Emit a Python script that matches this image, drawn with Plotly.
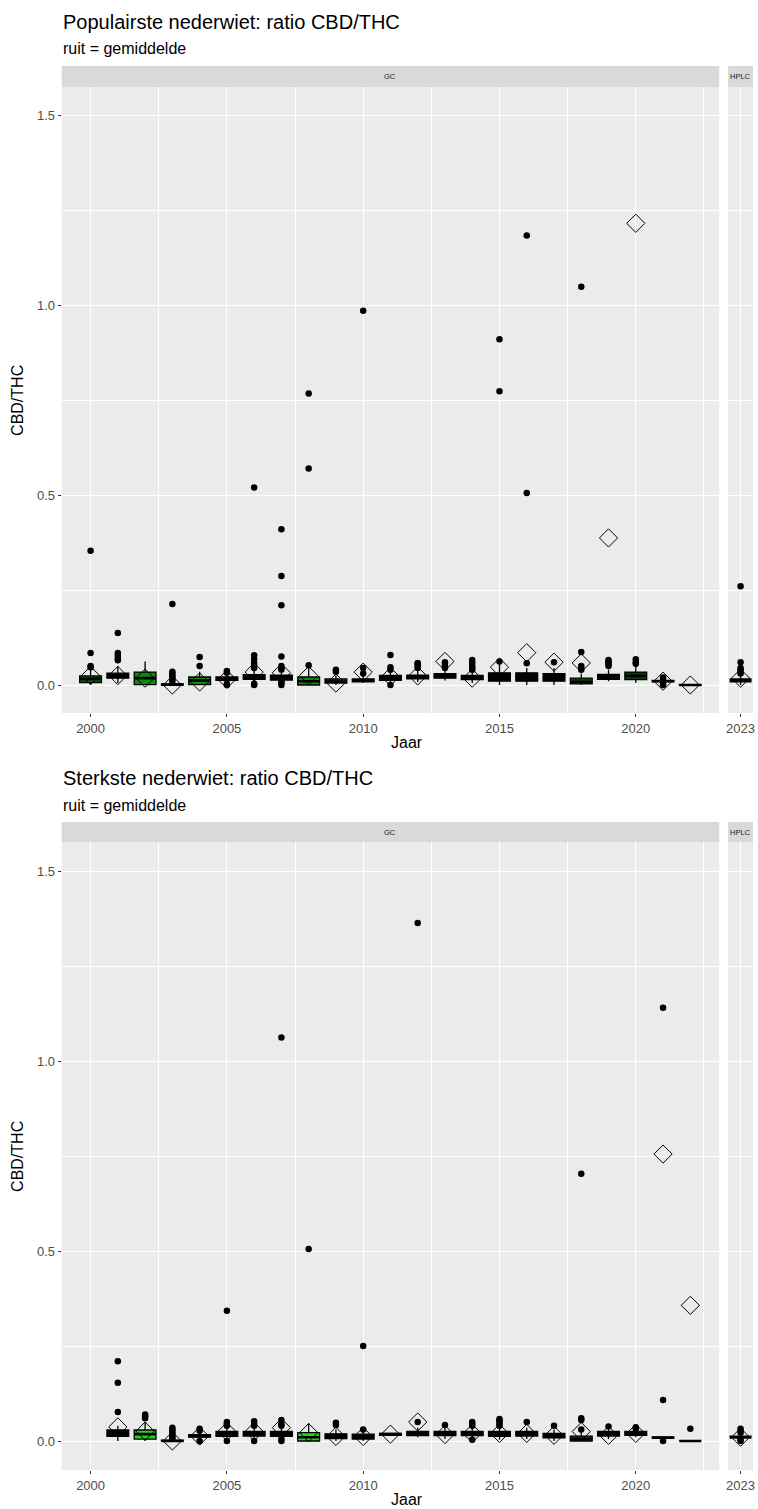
import plotly.graph_objects as go

# ---------------- DATA ----------------
# Chart 1: Populairste nederwiet
TOP_YEARS = [2000, 2001, 2002, 2003, 2004, 2005, 2006, 2007, 2008, 2009, 2010, 2011,
             2012, 2013, 2014, 2015, 2016, 2017, 2018, 2019, 2020, 2021, 2022, 2023]
TOP_METHOD = ["GC"] * 23 + ["HPLC"]
TOP_Q1 = [0.006, 0.018, 0.001, 0.000, 0.001, 0.012, 0.015, 0.013, 0.000, 0.005, 0.008, 0.012,
          0.016, 0.018, 0.014, 0.010, 0.010, 0.010, 0.003, 0.015, 0.014, 0.009, 0.000, 0.008]
TOP_MED = [0.016, 0.024, 0.018, 0.001, 0.012, 0.016, 0.020, 0.019, 0.010, 0.009, 0.012, 0.018,
           0.020, 0.022, 0.020, 0.020, 0.020, 0.018, 0.008, 0.020, 0.024, 0.010, 0.000, 0.012]
TOP_Q3 = [0.024, 0.031, 0.034, 0.003, 0.021, 0.021, 0.027, 0.026, 0.021, 0.016, 0.016, 0.025,
          0.026, 0.030, 0.025, 0.032, 0.032, 0.030, 0.018, 0.028, 0.034, 0.012, 0.001, 0.016]
TOP_LO = [0.000, 0.005, 0.000, 0.000, 0.000, 0.003, 0.005, 0.005, 0.000, 0.000, 0.005, 0.003,
          0.008, 0.012, 0.005, 0.000, 0.000, 0.000, 0.000, 0.010, 0.005, 0.005, 0.000, 0.000]
TOP_HI = [0.045, 0.050, 0.062, 0.006, 0.035, 0.030, 0.040, 0.038, 0.045, 0.025, 0.025, 0.035,
          0.040, 0.040, 0.038, 0.055, 0.045, 0.045, 0.030, 0.040, 0.050, 0.015, 0.001, 0.025]
TOP_MEAN = [0.025, 0.025, 0.018, 0.000, 0.008, 0.015, 0.034, 0.032, 0.025, 0.005, 0.034, 0.022,
            0.024, 0.062, 0.018, 0.047, 0.085, 0.060, 0.058, 0.387, 1.215, 0.010, 0.000, 0.018]
TOP_OUT = [
    [0.353, 0.084, 0.050, 0.047],
    [0.137, 0.084, 0.077, 0.070, 0.065],
    [],
    [0.213, 0.035, 0.030, 0.025, 0.020, 0.015, 0.010],
    [0.074, 0.050],
    [0.037, 0.032, 0.000, 0.003],
    [0.520, 0.078, 0.068, 0.058, 0.050, 0.045, 0.000, 0.003],
    [0.410, 0.287, 0.210, 0.075, 0.050, 0.045, 0.040, 0.010, 0.005, 0.000],
    [0.767, 0.570, 0.052],
    [0.040, 0.035],
    [0.985, 0.045, 0.030],
    [0.079, 0.047, 0.040, 0.000],
    [0.058, 0.055, 0.050, 0.045],
    [0.060, 0.055, 0.050, 0.045],
    [0.066, 0.058, 0.050, 0.045, 0.040],
    [0.910, 0.773, 0.062],
    [1.183, 0.505, 0.057],
    [0.060],
    [1.048, 0.087, 0.050, 0.045, 0.040],
    [0.066, 0.062, 0.058, 0.054, 0.050],
    [0.068, 0.060, 0.056],
    [0.020, 0.016, 0.003, 0.000],
    [],
    [0.260, 0.060, 0.045, 0.040, 0.035, 0.030],
]

# Chart 2: Sterkste nederwiet
BOT_YEARS = [2001, 2002, 2003, 2004, 2005, 2006, 2007, 2008, 2009, 2010, 2011, 2012,
             2013, 2014, 2015, 2016, 2017, 2018, 2019, 2020, 2021, 2022, 2023]
BOT_METHOD = ["GC"] * 22 + ["HPLC"]
BOT_Q1 = [0.012, 0.005, 0.000, 0.010, 0.012, 0.013, 0.012, 0.000, 0.006, 0.005, 0.015, 0.014,
          0.014, 0.014, 0.012, 0.013, 0.008, 0.000, 0.013, 0.015, 0.008, 0.000, 0.008]
BOT_MED = [0.022, 0.018, 0.000, 0.013, 0.020, 0.020, 0.020, 0.010, 0.013, 0.010, 0.018, 0.020,
           0.020, 0.020, 0.018, 0.020, 0.015, 0.005, 0.020, 0.020, 0.009, 0.000, 0.010]
BOT_Q3 = [0.029, 0.029, 0.002, 0.017, 0.025, 0.025, 0.025, 0.022, 0.019, 0.018, 0.020, 0.025,
          0.025, 0.025, 0.025, 0.025, 0.020, 0.013, 0.025, 0.025, 0.010, 0.000, 0.013]
BOT_LO = [0.000, 0.000, 0.000, 0.005, 0.005, 0.005, 0.005, 0.000, 0.000, 0.000, 0.015, 0.010,
          0.005, 0.005, 0.003, 0.005, 0.000, 0.000, 0.005, 0.010, 0.008, 0.000, 0.003]
BOT_HI = [0.040, 0.050, 0.004, 0.022, 0.035, 0.035, 0.035, 0.047, 0.030, 0.025, 0.020, 0.035,
          0.035, 0.035, 0.035, 0.035, 0.030, 0.025, 0.030, 0.030, 0.010, 0.000, 0.020]
BOT_MEAN = [0.037, 0.026, 0.000, 0.013, 0.025, 0.025, 0.035, 0.022, 0.012, 0.012, 0.018, 0.050,
            0.017, 0.020, 0.020, 0.020, 0.015, 0.025, 0.015, 0.020, 0.755, 0.357, 0.010]
BOT_OUT = [
    [0.210, 0.153, 0.076],
    [0.070, 0.065, 0.060],
    [0.035, 0.030, 0.025, 0.020, 0.015, 0.010, 0.006],
    [0.032, 0.027, 0.000],
    [0.343, 0.050, 0.045, 0.040, 0.000],
    [0.052, 0.045, 0.040, 0.000],
    [1.062, 0.055, 0.045, 0.040, 0.005, 0.000],
    [0.505],
    [0.048, 0.042],
    [0.250, 0.030],
    [],
    [1.363, 0.050],
    [0.042],
    [0.050, 0.045, 0.040, 0.003],
    [0.058, 0.054, 0.050, 0.045, 0.040],
    [0.050],
    [0.040],
    [0.703, 0.060, 0.055, 0.030],
    [0.038],
    [0.036, 0.032],
    [1.140, 0.108, 0.000],
    [0.032],
    [0.032, 0.027, 0.022, 0.003, 0.000],
]

X_TICKS = [2000, 2005, 2010, 2015, 2020]
X_MINOR = [2002.5, 2007.5, 2012.5, 2017.5, 2022.5]
Y_TICKS = [0.0, 0.5, 1.0, 1.5]
Y_TICKTEXT = ["0.0", "0.5", "1.0", "1.5"]
Y_MINOR = [0.25, 0.75, 1.25]

TITLES = ["Populairste nederwiet: ratio CBD/THC", "Sterkste nederwiet: ratio CBD/THC"]
SUBTITLE = "ruit = gemiddelde"

# ---------------- STYLE ----------------
W, H = 758, 1509
FONT = "Liberation Sans, Arial, sans-serif"
DARK_GREEN = "#005c00"
GREEN = "#0a8c0a"
LIME = "#22d422"
TOP_FILL = {2000: DARK_GREEN, 2002: GREEN, 2004: GREEN, 2008: GREEN, 2009: DARK_GREEN,
            2018: "#0b3d0b", 2020: "#0b3d0b"}
BOT_FILL = {2002: LIME, 2008: LIME, 2018: DARK_GREEN}


def fx(px):
    return px / W


def fy(py):
    return 1 - py / H


# panel geometry in pixels
PANELS = [
    dict(strip_top=66, top=87, bottom=713, zero=685, title_y=21.5, sub_y=48.5, xt_y=743),
    dict(strip_top=822, top=842, bottom=1470, zero=1441, title_y=777.5, sub_y=805.5, xt_y=1499),
]
PX_PER_UNIT = 380.0
GC_X = (60, 721)
HPLC_X = (730, 755)
GC_RANGE = [1998.94, 2023.06]
HPLC_RANGE = [2022.52, 2023.48]

fig = go.Figure()

datasets = [
    (TOP_YEARS, TOP_METHOD, TOP_Q1, TOP_MED, TOP_Q3, TOP_LO, TOP_HI, TOP_MEAN, TOP_OUT, TOP_FILL),
    (BOT_YEARS, BOT_METHOD, BOT_Q1, BOT_MED, BOT_Q3, BOT_LO, BOT_HI, BOT_MEAN, BOT_OUT, BOT_FILL),
]

layout_axes = {}
annotations = []
shapes = []

for k, (years, method, q1, med, q3, lo, hi, mean, outs, fills) in enumerate(datasets):
    P = PANELS[k]
    for j, m in enumerate(["GC", "HPLC"]):
        n = 2 * k + j + 1
        xa = "x" if n == 1 else f"x{n}"
        ya = "y" if n == 1 else f"y{n}"
        idx = [i for i in range(len(years)) if method[i] == m]
        groups = {}
        for i in idx:
            c = fills.get(years[i], "black")
            groups.setdefault(c, []).append(i)
        for c, ii in groups.items():
            fig.add_trace(go.Box(
                x=[years[i] for i in ii],
                q1=[q1[i] for i in ii], median=[med[i] for i in ii], q3=[q3[i] for i in ii],
                lowerfence=[lo[i] for i in ii], upperfence=[hi[i] for i in ii],
                width=0.8, fillcolor=c, line=dict(color="black", width=1.3),
                whiskerwidth=0, boxpoints=False, showlegend=False,
                xaxis=xa, yaxis=ya, hoverinfo="skip"))
        # thick median bars (ggplot fatten)
        fig.add_trace(go.Box(
            x=[years[i] for i in idx],
            q1=[med[i] for i in idx], median=[med[i] for i in idx], q3=[med[i] for i in idx],
            lowerfence=[med[i] for i in idx], upperfence=[med[i] for i in idx],
            width=0.8, fillcolor="rgba(0,0,0,0)", line=dict(color="black", width=2.6),
            whiskerwidth=0, boxpoints=False, showlegend=False,
            xaxis=xa, yaxis=ya, hoverinfo="skip"))
        ox, oy = [], []
        for i in idx:
            for v in outs[i]:
                ox.append(years[i])
                oy.append(v)
        fig.add_trace(go.Scatter(x=ox, y=oy, mode="markers",
                                 marker=dict(color="black", size=6.5),
                                 showlegend=False, xaxis=xa, yaxis=ya, hoverinfo="skip"))
        fig.add_trace(go.Scatter(x=[years[i] for i in idx], y=[mean[i] for i in idx],
                                 mode="markers",
                                 marker=dict(symbol="diamond-open", size=14, color="black",
                                             line=dict(color="black", width=1)),
                                 showlegend=False, xaxis=xa, yaxis=ya, hoverinfo="skip"))

        yr = [(P["zero"] - P["bottom"]) / PX_PER_UNIT, (P["zero"] - P["top"]) / PX_PER_UNIT]
        xdom = GC_X if m == "GC" else HPLC_X
        common_x = dict(
            domain=[fx(xdom[0]), fx(xdom[1])], anchor=ya,
            ticks="outside", ticklen=3, tickwidth=1, tickcolor="#333333",
            tickfont=dict(size=13, color="#4D4D4D", family=FONT),
            showgrid=True, gridcolor="white", gridwidth=1.4, zeroline=False, showline=False,
        )
        if m == "GC":
            common_x.update(range=GC_RANGE, tickvals=X_TICKS,
                            minor=dict(tickvals=X_MINOR, showgrid=True, gridcolor="white",
                                       gridwidth=0.7, ticks=""))
        else:
            common_x.update(range=HPLC_RANGE, tickvals=[2023])
        common_y = dict(
            domain=[fy(P["bottom"]), fy(P["top"])], anchor=xa, range=yr,
            tickvals=Y_TICKS, ticktext=Y_TICKTEXT,
            showgrid=True, gridcolor="white", gridwidth=1.4, zeroline=False, showline=False,
            minor=dict(tickvals=Y_MINOR, showgrid=True, gridcolor="white", gridwidth=0.7, ticks=""),
        )
        if m == "GC":
            common_y.update(ticks="outside", ticklen=3, tickwidth=1, tickcolor="#333333",
                            tickfont=dict(size=13, color="#4D4D4D", family=FONT))
        else:
            common_y.update(showticklabels=False, ticks="")
        xkey = "xaxis" if n == 1 else f"xaxis{n}"
        ykey = "yaxis" if n == 1 else f"yaxis{n}"
        layout_axes[xkey] = common_x
        layout_axes[ykey] = common_y

        shapes.append(dict(type="rect", xref="paper", yref="paper",
                           x0=fx(xdom[0]), x1=fx(xdom[1]), y0=fy(P["top"]), y1=fy(P["strip_top"]),
                           fillcolor="#D9D9D9", line=dict(width=0)))
        annotations.append(dict(text=m, xref="paper", yref="paper", showarrow=False,
                                x=fx((xdom[0] + xdom[1]) / 2), y=fy((P["top"] + P["strip_top"]) / 2),
                                xanchor="center", yanchor="middle",
                                font=dict(size=7.5, color="#1A1A1A", family=FONT)))

    annotations.append(dict(text=TITLES[k], xref="paper", yref="paper", showarrow=False,
                            x=fx(59), y=fy(P["title_y"]), xanchor="left", yanchor="middle",
                            font=dict(size=20, color="black", family=FONT)))
    annotations.append(dict(text=SUBTITLE, xref="paper", yref="paper", showarrow=False,
                            x=fx(59), y=fy(P["sub_y"]), xanchor="left", yanchor="middle",
                            font=dict(size=16, color="black", family=FONT)))
    annotations.append(dict(text="CBD/THC", xref="paper", yref="paper", showarrow=False,
                            x=fx(15), y=fy((P["top"] + P["bottom"]) / 2), textangle=-90,
                            xanchor="center", yanchor="middle",
                            font=dict(size=16, color="black", family=FONT)))
    annotations.append(dict(text="Jaar", xref="paper", yref="paper", showarrow=False,
                            x=fx(407), y=fy(P["xt_y"]), xanchor="center", yanchor="middle",
                            font=dict(size=16, color="black", family=FONT)))

fig.update_layout(
    width=W, height=H, autosize=False,
    margin=dict(l=0, r=0, t=0, b=0),
    paper_bgcolor="white", plot_bgcolor="#EBEBEB",
    boxmode="overlay", showlegend=False,
    font=dict(family=FONT),
    annotations=annotations, shapes=shapes,
    **layout_axes,
)

fig.write_html("out.html")
